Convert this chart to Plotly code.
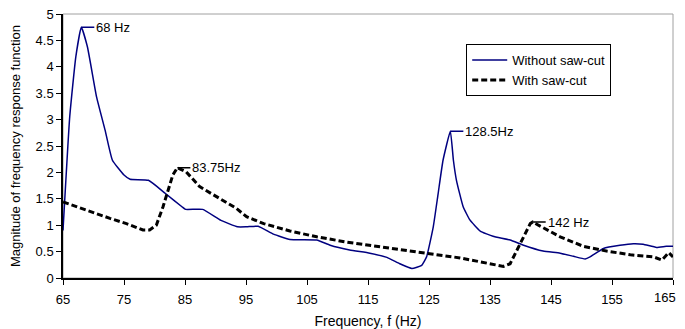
import plotly.graph_objects as go

# Without saw-cut (blue)
f_without = [65, 66.1, 67.1, 68, 69, 70.5, 71.9, 73.1, 75, 76, 79, 81.8, 84.5, 85.1, 87.9, 90.9, 93.6,
             95.1, 97.0, 99.5, 102.2, 106.6, 108.8, 112.0, 115.3, 118.1, 120.2, 122.2, 123.8, 124.6,
             125.7, 126.5, 127.3, 128.5, 129.0, 129.5, 130.6, 131.7, 133.4, 135.5, 138.3, 140.5,
             143.7, 146.5, 148.7, 150.6, 151.4, 153.6, 156.3, 158.5, 160.1, 162.3, 163.9, 165]
m_without = [0.9, 3.05, 4.19, 4.75, 4.38, 3.43, 2.80, 2.23, 1.95, 1.87, 1.85, 1.60, 1.35, 1.30, 1.30, 1.09, 0.97,
             0.97, 0.98, 0.83, 0.73, 0.72, 0.62, 0.53, 0.47, 0.39, 0.27, 0.18, 0.24, 0.40,
             0.97, 1.6, 2.23, 2.78, 2.23, 1.85, 1.35, 1.10, 0.89, 0.79, 0.72, 0.62,
             0.51, 0.47, 0.41, 0.36, 0.40, 0.56, 0.62, 0.65, 0.64, 0.58, 0.60, 0.60]

# With saw-cut (black dashed)
f_with = [65, 68.8, 72.7, 75.4, 78.1, 79.2, 80.3, 81.4, 82.5, 83.0, 83.75, 85.2, 87.4, 90.1, 93.4,
          95.1, 97.9, 102.2, 106.6, 111.5, 115.9, 120.8, 125.2, 130.1, 132.8, 137.2, 138.3, 139.9,
          141.6, 142.0, 143.5, 146.5, 150.3, 154.1, 158.0, 161.8, 163.2, 164.3, 165]
m_with = [1.44, 1.28, 1.13, 1.03, 0.91, 0.91, 1.0, 1.35, 1.79, 1.95, 2.09, 2.01, 1.73, 1.54, 1.32,
          1.16, 1.03, 0.89, 0.78, 0.68, 0.61, 0.54, 0.47, 0.38, 0.32, 0.22, 0.27, 0.65,
          1.03, 1.06, 0.97, 0.78, 0.60, 0.51, 0.44, 0.40, 0.34, 0.48, 0.40]

peak_f = [68, 83.75, 128.5, 142]
peak_m = [4.75, 2.09, 2.78, 1.06]
peak_labels = ["68 Hz", "83.75Hz", "128.5Hz", "142 Hz"]
peak_colors = ["#000080", "#000000", "#000080", "#000000"]

x_ticks = list(range(65, 166, 10))
x_ticktext = [str(t) for t in x_ticks]
last_tick = x_ticks[-1]
last_label = x_ticktext[-1]
x_ticktext[-1] = ""  # last label drawn as an annotation so it stays inside the page edge

FONT = "Liberation Sans, Arial, sans-serif"

fig = go.Figure()
fig.add_trace(go.Scatter(x=f_without, y=m_without, mode="lines", name="Without saw-cut",
                         line=dict(color="#000080", width=1.5, shape="spline", smoothing=0.4)))
fig.add_trace(go.Scatter(x=f_with, y=m_with, mode="lines", name="With saw-cut",
                         line=dict(color="#000000", width=3, dash="6px,3px")))

for fx, my, lab, col in zip(peak_f, peak_m, peak_labels, peak_colors):
    fig.add_annotation(x=fx, y=my, text=lab, showarrow=True, arrowhead=0, arrowwidth=1.5,
                       arrowcolor=col, ax=13, ay=0, xanchor="left", yanchor="middle",
                       font=dict(family=FONT, size=13, color="#000000"))

fig.add_annotation(x=last_tick, y=0, xref="x", yref="paper", text=last_label, showarrow=False,
                   xanchor="right", yanchor="top", xshift=5, yshift=-10,
                   font=dict(family=FONT, size=13, color="#000000"))

fig.add_shape(type="rect", xref="paper", yref="paper", x0=0, x1=1, y0=0, y1=1,
              line=dict(color="#a0a0a0", width=1), layer="below")

# page body has an 8px default margin, so the figure is sized to fit inside it
fig.update_layout(
    width=677, height=321,
    margin=dict(l=55, r=12, t=6, b=51),
    paper_bgcolor="white", plot_bgcolor="white",
    font=dict(family=FONT, size=13, color="#000000"),
    showlegend=True,
    legend=dict(x=0.661, y=0.886, xanchor="left", yanchor="top",
                bordercolor="#000000", borderwidth=1, bgcolor="white",
                font=dict(family=FONT, size=13), tracegroupgap=0, itemwidth=35),
)
fig.update_xaxes(range=[65, 165], tickvals=x_ticks, ticktext=x_ticktext, ticks="outside", ticklen=5,
                 tickcolor="#000",
                 showline=True, linecolor="#000", linewidth=1.5, showgrid=False, zeroline=False,
                 automargin=False, ticklabelstandoff=4, ticklabeloverflow="allow",
                 title=dict(text="Frequency, f (Hz)", font=dict(size=14), standoff=12),
                 tickfont=dict(size=13))
fig.update_yaxes(range=[0, 5], dtick=0.5, ticks="outside", ticklen=5, tickcolor="#000",
                 showline=True, linecolor="#000", linewidth=1.5, showgrid=False, zeroline=False,
                 automargin=False, ticklabeloverflow="allow",
                 title=dict(text="Magnitude of frequency response function", font=dict(size=13), standoff=18),
                 tickfont=dict(size=13))

fig.write_html("out.html")
